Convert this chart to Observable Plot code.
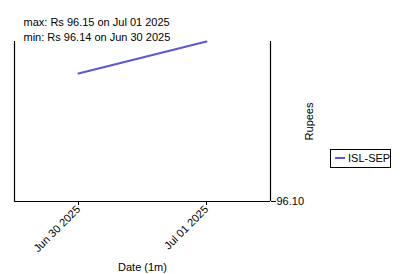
<!DOCTYPE html>
<html><head><meta charset="utf-8">
<script src="https://cdn.jsdelivr.net/npm/d3@7"></script>
<script src="https://cdn.jsdelivr.net/npm/@observablehq/plot@0.6"></script>
<style>
body{margin:0;background:#fff;font-family:"Liberation Sans",Arial,sans-serif;}
#wrap{position:relative;width:400px;height:274px;}
#wrap svg{position:absolute;left:0;top:0;}
#legend{position:absolute;left:330px;top:149px;width:59px;height:17px;border:1px solid #000;font-size:11px;line-height:17px;white-space:nowrap;background:#fff;box-sizing:content-box;}
#legend span.sw{display:inline-block;width:10px;height:0;border-top:2px solid #5b57d9;vertical-align:middle;margin:0 3px 0 4px;position:relative;top:-1px;}
</style>
</head><body>
<div id="wrap"><div id="legend"><span class="sw"></span>ISL-SEP</div></div>
<script>
const series = "ISL-SEP";
const dates = ["2025-06-30", "2025-07-01"];
const values = [96.14, 96.15];
const xDomain = ["2025-06-29T12:00", "2025-07-01T12:00"];
const yDomain = [96.10, 96.15];
const yTicks = [96.10];
const xLabel = "Date (1m)";
const yLabel = "Rupees";
const color = "#5b57d9";

const data = dates.map((d, i) => ({date: new Date(d), value: values[i]}));
const fmt = d3.utcFormat("%b %d %Y");
const maxD = data.reduce((a, b) => b.value > a.value ? b : a);
const minD = data.reduce((a, b) => b.value < a.value ? b : a);
const noteMax = `max: Rs ${maxD.value.toFixed(2)} on ${fmt(maxD.date)}`;
const noteMin = `min: Rs ${minD.value.toFixed(2)} on ${fmt(minD.date)}`;
const xd = xDomain.map(s => new Date(s + "Z"));

const chart = Plot.plot({
  width: 400, height: 274,
  marginLeft: 14, marginRight: 130, marginTop: 41, marginBottom: 73,
  style: {fontFamily: "Liberation Sans, Arial, sans-serif", fontSize: "11px", color: "#000", background: "transparent"},
  x: {type: "utc", domain: xd},
  y: {domain: yDomain},
  marks: [
    Plot.axisX(data.map(d => d.date), {tickFormat: fmt, tickRotate: -45, tickSize: 4, tickPadding: 2, fontSize: 11, label: null}),
    Plot.text([xLabel], {frameAnchor: "bottom", dy: 69, fontSize: 11}),
    Plot.axisY(yTicks, {anchor: "right", tickSize: 5, tickPadding: 1, tickFormat: d3.format(".2f"), fontSize: 11, label: null}),
    Plot.text([yLabel], {frameAnchor: "right", dx: 39, dy: -19, rotate: -90, fontSize: 11}),
    Plot.ruleX(xd, {stroke: "#000", strokeWidth: 1.2}),
    Plot.ruleY([yDomain[0]], {stroke: "#000", strokeWidth: 1.2}),
    Plot.line(data, {x: "date", y: "value", stroke: color, strokeWidth: 2}),
    Plot.text([noteMax], {frameAnchor: "top-left", dx: 9, dy: -16, textAnchor: "start", fontSize: 11, lineAnchor: "bottom"}),
    Plot.text([noteMin], {frameAnchor: "top-left", dx: 9, dy: -1, textAnchor: "start", fontSize: 11, lineAnchor: "bottom"})
  ]
});
document.getElementById("wrap").prepend(chart);
</script>
</body></html>
